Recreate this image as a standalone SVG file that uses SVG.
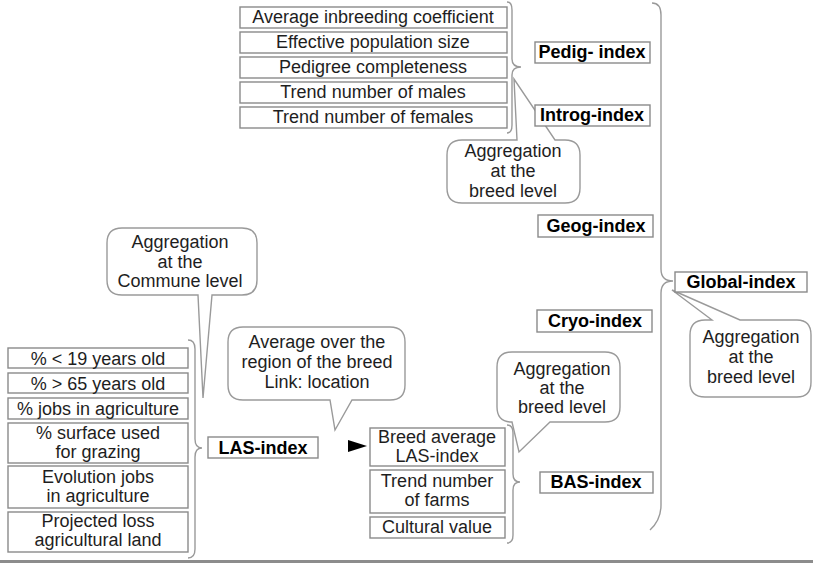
<svg xmlns="http://www.w3.org/2000/svg" width="813" height="564" viewBox="0 0 813 564">
<style>
.box{fill:#fff;stroke:#8a8a8a;stroke-width:1.4}
.call{fill:#fff;stroke:#9a9a9a;stroke-width:1.4}
.brace{fill:none;stroke:#9a9a9a;stroke-width:1.4}
text{font-family:"Liberation Sans",Arial,sans-serif;font-size:18px;fill:#1e1e1e;text-anchor:middle}
.b{font-weight:bold;fill:#000}
</style>
<rect x="0" y="0" width="813" height="564" fill="#fff"/>
<g id="connectors">
<path class="brace" d="M507,2 Q512,2 512,10 L512,59 Q512,67 521,67 Q512,67 512,75 L512,125 Q512,133 507,133"/>
<path class="brace" d="M188,340 Q195,340 195,349 L195,439 Q195,448 202,448 Q195,448 195,457 L195,549 Q195,558 188,558"/>
<path class="brace" d="M507,425 Q513,425 513,433 L513,474 Q513,482 520,482 Q513,482 513,490 L513,535 Q513,543 507,543"/>
<path class="brace" d="M652,3 Q661,3 661,15 L661,269 Q661,281 673,281 Q661,281 661,293 L661,505 Q661,520 650,530"/>
<polygon points="348,440 367,446 348,452" fill="#000"/>
</g>
<g id="callout-top">
<path class="call" d="M462,140 L517,140 L514,79 L555,140 L565,140 Q580,140 580,155 L580,188 Q580,203 565,203 L462,203 Q447,203 447,188 L447,155 Q447,140 462,140 Z"/>
<text x="513" y="157">Aggregation</text>
<text x="513" y="177">at the</text>
<text x="513" y="197">breed level</text>
</g>
<g id="callout-commune">
<path class="call" d="M122,228 L242,228 Q257,228 257,243 L257,280 Q257,295 242,295 L212,295 L203,398 L198,295 L122,295 Q107,295 107,280 L107,243 Q107,228 122,228 Z"/>
<text x="180" y="248">Aggregation</text>
<text x="180" y="268">at the</text>
<text x="180" y="287">Commune level</text>
</g>
<g id="callout-average">
<path class="call" d="M243,327 L390,327 Q405,327 405,342 L405,385 Q405,400 390,400 L352,400 L335,430 L330,400 L243,400 Q228,400 228,385 L228,342 Q228,327 243,327 Z"/>
<text x="317" y="348">Average over the</text>
<text x="317" y="368">region of the breed</text>
<text x="317" y="388">Link: location</text>
</g>
<g id="callout-bas">
<path class="call" d="M512,352 L605,352 Q620,352 620,367 L620,407 Q620,422 605,422 L550,422 L519,452 L512,422 Q497,422 497,407 L497,367 Q497,352 512,352 Z"/>
<text x="562" y="375">Aggregation</text>
<text x="562" y="394">at the</text>
<text x="562" y="413">breed level</text>
</g>
<g id="callout-global">
<path class="call" d="M705,320 L712,320 L672,290 L740,320 L797,320 Q811,320 811,335 L811,382 Q811,397 797,397 L705,397 Q690,397 690,382 L690,335 Q690,320 705,320 Z"/>
<text x="751" y="343">Aggregation</text>
<text x="751" y="363">at the</text>
<text x="751" y="383">breed level</text>
</g>
<g id="pedig-inputs">
<rect class="box" x="240" y="7" width="267" height="21"/>
<text x="373" y="23">Average inbreeding coefficient</text>
<rect class="box" x="240" y="32" width="267" height="21"/>
<text x="373" y="48">Effective population size</text>
<rect class="box" x="240" y="57" width="267" height="21"/>
<text x="373" y="73">Pedigree completeness</text>
<rect class="box" x="240" y="82" width="267" height="21"/>
<text x="373" y="97.5">Trend number of males</text>
<rect class="box" x="240" y="107" width="267" height="21"/>
<text x="373" y="122.5">Trend number of females</text>
</g>
<g id="pedig-index">
<rect class="box" x="535" y="42" width="115" height="21"/>
<text class="b" x="592" y="58">Pedig- index</text>
</g>
<g id="introg-index">
<rect class="box" x="535" y="105" width="115" height="21"/>
<text class="b" x="592" y="121">Introg-index</text>
</g>
<g id="geog-index">
<rect class="box" x="538" y="215" width="115" height="22"/>
<text class="b" x="596" y="232">Geog-index</text>
</g>
<g id="cryo-index">
<rect class="box" x="537" y="310" width="115" height="22"/>
<text class="b" x="595" y="327">Cryo-index</text>
</g>
<g id="bas-index">
<rect class="box" x="540" y="472" width="113" height="21"/>
<text class="b" x="596" y="488">BAS-index</text>
</g>
<g id="global-index">
<rect class="box" x="675" y="272" width="132" height="20"/>
<text class="b" x="741" y="288">Global-index</text>
</g>
<g id="las-index">
<rect class="box" x="208" y="437" width="110" height="21"/>
<text class="b" x="263" y="454">LAS-index</text>
</g>
<g id="las-inputs">
<rect class="box" x="8" y="348" width="180" height="20"/>
<text x="98" y="365">% &lt; 19 years old</text>
<rect class="box" x="8" y="373" width="180" height="20"/>
<text x="98" y="390">% &gt; 65 years old</text>
<rect class="box" x="8" y="398" width="180" height="21"/>
<text x="98" y="415">% jobs in agriculture</text>
<rect class="box" x="8" y="423" width="180" height="40"/>
<text x="98" y="439">% surface used</text>
<text x="98" y="458">for grazing</text>
<rect class="box" x="8" y="466" width="180" height="42"/>
<text x="98" y="483">Evolution jobs</text>
<text x="98" y="502">in agriculture</text>
<rect class="box" x="8" y="512" width="180" height="40"/>
<text x="98" y="527">Projected loss</text>
<text x="98" y="546">agricultural land</text>
</g>
<g id="bas-inputs">
<rect class="box" x="370" y="428" width="135" height="38"/>
<text x="437" y="443">Breed average</text>
<text x="437" y="462">LAS-index</text>
<rect class="box" x="370" y="470" width="135" height="43"/>
<text x="437" y="487">Trend number</text>
<text x="437" y="506">of farms</text>
<rect class="box" x="370" y="517" width="135" height="21"/>
<text x="437" y="533">Cultural value</text>
</g>
<line x1="0" y1="561.5" x2="813" y2="561.5" stroke="#8c8c8c" stroke-width="3"/>
</svg>
